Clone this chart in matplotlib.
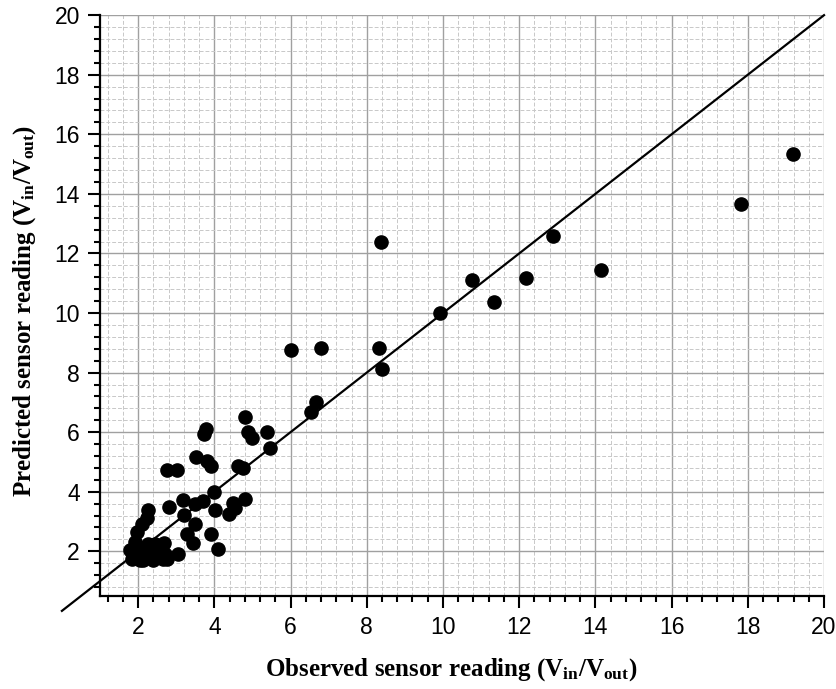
import matplotlib
matplotlib.use("Agg")
import matplotlib.pyplot as plt
from matplotlib.ticker import MultipleLocator

plt.rcParams['mathtext.fontset'] = 'custom'
plt.rcParams['mathtext.rm'] = 'Liberation Serif:bold'
plt.rcParams['mathtext.it'] = 'Liberation Serif:bold'
plt.rcParams['mathtext.bf'] = 'Liberation Serif:bold'

observed = [19.19, 17.83, 14.15, 12.90, 12.17, 10.76, 11.34, 9.93, 8.37, 8.33, 8.40,
            6.02, 6.80, 6.67, 6.54,
            4.81, 4.88, 4.99, 5.38, 5.46, 3.78, 3.73, 3.52, 3.82, 3.92, 4.61, 4.76, 2.77, 3.02,
            3.98, 4.81, 4.49, 4.55, 4.39, 4.02, 3.71, 3.50, 3.19, 3.21, 3.50, 3.29, 3.45, 3.92,
            4.09, 3.04,
            2.81, 2.27, 2.24, 2.10, 1.97, 1.92, 1.88, 1.83, 2.14, 2.40, 2.66, 2.27, 2.43, 2.69,
            2.18, 2.36, 2.53, 2.71, 2.05, 2.75, 1.79]
predicted = [15.33, 13.65, 11.46, 12.58, 11.16, 11.10, 10.37, 10.00, 12.38, 8.84, 8.11,
             8.77, 8.81, 7.00, 6.67,
             6.51, 5.99, 5.82, 5.99, 5.47, 6.12, 5.95, 5.17, 5.03, 4.86, 4.85, 4.80, 4.74, 4.72,
             3.99, 3.75, 3.62, 3.47, 3.24, 3.40, 3.69, 3.60, 3.71, 3.21, 2.93, 2.57, 2.28, 2.59,
             2.08, 1.90,
             3.49, 3.40, 3.12, 2.93, 2.65, 2.31, 1.98, 1.75, 1.72, 1.70, 1.75, 2.24, 2.26, 2.29,
             2.05, 1.98, 2.03, 1.92, 1.70, 1.75, 2.03]

line_x = [0, 20]
line_y = [0, 20]

fig = plt.figure(figsize=(8.37, 6.89), dpi=100)
ax = fig.add_axes([0.1195, 0.135, 0.865, 0.843])

ax.set_xlim(1, 20)
ax.set_ylim(0.5, 20)
ax.xaxis.set_major_locator(MultipleLocator(2))
ax.yaxis.set_major_locator(MultipleLocator(2))
ax.xaxis.set_minor_locator(MultipleLocator(0.4))
ax.yaxis.set_minor_locator(MultipleLocator(0.4))

ax.grid(which='minor', color='#c8c8c8', linestyle=(0, (4, 2)), linewidth=0.7)
ax.grid(which='major', color='#a0a0a0', linestyle='-', linewidth=1.0)
ax.set_axisbelow(True)

ax.plot(line_x, line_y, color='black', linewidth=1.6, clip_on=False, zorder=3)
ax.plot(observed, predicted, 'o', color='black', markersize=9.5, zorder=4)

for s in ['top', 'right']:
    ax.spines[s].set_visible(False)
for s in ['left', 'bottom']:
    ax.spines[s].set_linewidth(1.6)

ax.tick_params(which='major', direction='out', length=8.5, width=1.5, labelsize=16.5, pad=6)
ax.tick_params(which='minor', direction='out', length=4.5, width=1.5)
for lab in ax.get_xticklabels() + ax.get_yticklabels():
    lab.set_fontfamily('Liberation Sans')

ax.set_xlabel(r'Observed sensor reading ($V_{in}$/$V_{out}$)', fontfamily='Liberation Serif',
              fontweight='bold', fontsize=18, va='center')
ax.set_ylabel(r'Predicted sensor reading ($V_{in}$/$V_{out}$)', fontfamily='Liberation Serif',
              fontweight='bold', fontsize=18, va='center')
ax.xaxis.set_label_coords(0.485, -0.127)
ax.yaxis.set_label_coords(-0.104, 0.49)

fig.savefig('out.png', dpi=100)
